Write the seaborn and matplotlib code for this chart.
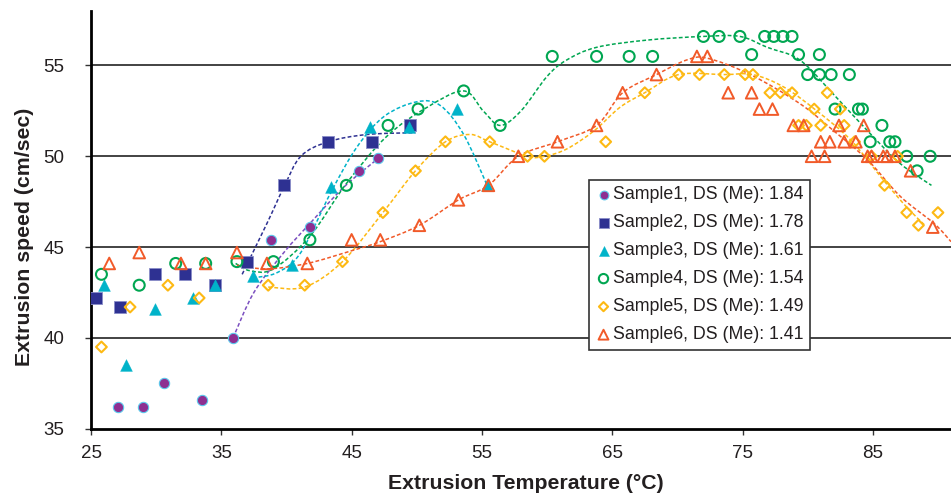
import numpy as np
import pandas as pd
import seaborn as sns
import matplotlib
matplotlib.use("Agg")
import matplotlib.pyplot as plt
from matplotlib.path import Path
from matplotlib.patches import PathPatch

s1_x = [27.1, 29.0, 30.6, 33.5, 35.9, 38.8, 41.8, 45.6, 47.0]
s1_y = [36.2, 36.2, 37.5, 36.6, 40.0, 45.4, 46.1, 49.2, 49.9]

s2_x = [25.4, 27.2, 29.9, 32.2, 34.5, 37.0, 39.8, 43.2, 46.6, 49.5]
s2_y = [42.2, 41.7, 43.5, 43.5, 42.9, 44.2, 48.4, 50.8, 50.8, 51.7]

s3_x = [26.0, 27.7, 29.9, 32.8, 34.5, 37.4, 40.4, 43.4, 46.4, 49.4, 53.1, 55.4]
s3_y = [42.9, 38.5, 41.6, 42.2, 42.9, 43.4, 44.0, 48.3, 51.6, 51.6, 52.6, 48.4]

s4_x = [25.8, 28.7, 31.5, 33.8, 36.2, 39.0, 41.8, 44.6, 47.8, 50.1,
        53.6, 56.4, 60.4, 63.8, 66.3, 68.1, 72.0, 73.2, 74.8, 75.7,
        76.7, 77.4, 78.1, 78.8, 79.3, 80.0, 80.9, 80.9, 81.8, 82.1,
        83.2, 83.9, 84.2, 84.8, 85.7, 86.3, 86.7, 87.6, 88.4, 89.4]
s4_y = [43.5, 42.9, 44.1, 44.1, 44.2, 44.2, 45.4, 48.4, 51.7, 52.6,
        53.6, 51.7, 55.5, 55.5, 55.5, 55.5, 56.6, 56.6, 56.6, 55.6,
        56.6, 56.6, 56.6, 56.6, 55.6, 54.5, 55.6, 54.5, 54.5, 52.6,
        54.5, 52.6, 52.6, 50.8, 51.7, 50.8, 50.8, 50.0, 49.2, 50.0]

s5_x = [25.8, 28.0, 30.9, 33.3, 38.6, 41.4, 44.3, 47.4, 49.9, 52.2,
        55.6, 58.5, 59.8, 64.5, 67.5, 70.1, 71.7, 73.6, 75.2, 75.8,
        77.1, 77.9, 78.8, 81.5, 80.5, 82.5, 79.3, 79.9, 81.0, 82.8,
        83.6, 84.9, 86.9, 85.9, 87.6, 88.5, 90.0]
s5_y = [39.5, 41.7, 42.9, 42.2, 42.9, 42.9, 44.2, 46.9, 49.2, 50.8,
        50.8, 50.0, 50.0, 50.8, 53.5, 54.5, 54.5, 54.5, 54.5, 54.5,
        53.5, 53.5, 53.5, 53.5, 52.6, 52.6, 51.7, 51.7, 51.7, 51.7,
        50.8, 50.0, 50.0, 48.4, 46.9, 46.2, 46.9]

s6_x = [26.4, 28.7, 31.9, 33.8, 36.2, 38.5, 41.6, 45.0, 47.2, 50.2,
        53.2, 55.5, 57.8, 60.8, 63.8, 65.8, 68.4, 71.5, 72.3, 73.9,
        75.7, 76.3, 77.3, 78.9, 79.7, 82.4, 84.3, 81.0, 81.7, 82.8,
        83.7, 80.3, 81.3, 84.6, 84.9, 85.8, 86.1, 86.7, 87.9, 89.6]
s6_y = [44.1, 44.7, 44.1, 44.1, 44.7, 44.1, 44.1, 45.4, 45.4, 46.2,
        47.6, 48.4, 50.0, 50.8, 51.7, 53.5, 54.5, 55.5, 55.5, 53.5,
        53.5, 52.6, 52.6, 51.7, 51.7, 51.7, 51.7, 50.8, 50.8, 50.8,
        50.8, 50.0, 50.0, 50.0, 50.0, 50.0, 50.0, 50.0, 49.2, 46.1]

# trend curves (knots)
t1_x = [35.9, 37.5, 39.8, 41.8, 44.4, 46.9]
t1_y = [40.0, 42.5, 44.7, 46.3, 48.3, 49.8]
t2_x = [36.6, 38.5, 39.8, 41.1, 43.2, 46.2, 49.9]
t2_y = [43.5, 46.3, 48.3, 50.0, 50.8, 51.2, 51.3]
t3_x = [37.4, 39.3, 41.1, 43.4, 45.4, 47.5, 50.0, 51.8, 53.6, 55.4]
t3_y = [43.3, 43.6, 44.7, 48.0, 50.5, 52.2, 53.0, 52.8, 51.2, 48.4]
t4_x = [36.1, 37.2, 39.0, 41.8, 44.6, 47.7, 50.8, 53.6, 55.1, 56.4, 58.0, 60.0,
        61.5, 63.8, 67.7, 72.0, 74.8, 76.9, 79.4, 82.0, 84.6, 87.1, 89.5]
t4_y = [44.1, 43.7, 43.8, 45.6, 48.5, 51.1, 52.7, 53.6, 52.5, 51.7, 52.5, 54.4,
        55.3, 56.0, 56.4, 56.6, 56.6, 56.0, 55.3, 53.4, 51.4, 49.6, 48.4]
t5_x = [38.6, 41.4, 44.3, 47.4, 49.9, 52.2, 54.1, 55.6, 58.5, 59.8, 61.5, 63.6,
        65.6, 67.5, 70.1, 73.6, 75.8, 78.2, 80.7, 83.3, 85.8, 87.6, 89.0]
t5_y = [42.8, 42.8, 44.2, 46.9, 49.2, 50.8, 51.2, 50.8, 50.0, 50.0, 50.4, 51.4,
        52.7, 53.5, 54.5, 54.5, 54.5, 53.8, 52.5, 50.9, 48.7, 47.2, 46.2]
t6_x = [36.2, 38.5, 41.6, 45.0, 47.2, 50.2, 53.2, 55.5, 57.8, 60.8, 63.8,
        65.8, 68.4, 70.7, 72.3, 75.6, 79.4, 82.0, 84.6, 87.1, 89.7, 91.0]
t6_y = [44.0, 43.8, 44.1, 44.8, 45.3, 46.2, 47.6, 48.4, 50.0, 50.8, 51.7,
        53.5, 54.5, 55.3, 55.4, 54.5, 52.9, 51.4, 49.8, 47.8, 46.3, 45.3]

labels = ["Sample1, DS (Me): 1.84", "Sample2, DS (Me): 1.78", "Sample3, DS (Me): 1.61",
          "Sample4, DS (Me): 1.54", "Sample5, DS (Me): 1.49", "Sample6, DS (Me): 1.41"]
colors = ["#8E2F91", "#2E3192", "#00B3C9", "#00A651", "#FDB913", "#F15A29"]
line_colors = ["#7B4FC0", "#2E3192", "#00B3C9", "#00A651", "#FDB913", "#F15A29"]

points = [(s1_x, s1_y), (s2_x, s2_y), (s3_x, s3_y), (s4_x, s4_y), (s5_x, s5_y), (s6_x, s6_y)]
trends = [(t1_x, t1_y), (t2_x, t2_y), (t3_x, t3_y), (t4_x, t4_y), (t5_x, t5_y), (t6_x, t6_y)]

# marker style per sample
styles = [
    dict(marker="o", s=55, color=colors[0], edgecolor="#5BC8EC", linewidth=0.8),
    dict(marker="s", s=68, color=colors[1], edgecolor="#8A8DC8", linewidth=0.6),
    dict(marker="^", s=72, color=colors[2], edgecolor=colors[2], linewidth=0.3),
    dict(marker="o", s=62, facecolors="none", edgecolor=colors[3], linewidth=1.5),
    dict(marker="D", s=30, facecolors="none", edgecolor=colors[4], linewidth=1.5),
    dict(marker="^", s=70, facecolors="none", edgecolor=colors[5], linewidth=1.4),
]


def smooth_path(xs, ys):
    # excel-like smoothed line: catmull-rom converted to bezier segments
    pts = np.column_stack([xs, ys])
    p = np.vstack([pts[0], pts, pts[-1]])
    verts = [pts[0]]
    codes = [Path.MOVETO]
    for i in range(1, len(p) - 2):
        c1 = p[i] + (p[i + 1] - p[i - 1]) / 6
        c2 = p[i + 1] - (p[i + 2] - p[i]) / 6
        verts += [c1, c2, p[i + 1]]
        codes += [Path.CURVE4] * 3
    return Path(verts, codes)


sns.set_style("white")
plt.rcParams['font.family'] = ['Liberation Sans', 'DejaVu Sans']

fig = plt.figure(figsize=(9.51, 4.96), dpi=100)
ax = fig.add_axes([0.0957, 0.1357, 0.9043, 0.8421])

for yv in [40, 45, 50, 55]:
    ax.axhline(yv, color="#222222", lw=1.2, zorder=0)

for (tx, ty), c in zip(trends, line_colors):
    ax.add_patch(PathPatch(smooth_path(tx, ty), fill=False, edgecolor=c, lw=1.1,
                           linestyle=(0, (2.5, 1.5)), zorder=2))

for (px, py), lab, st in zip(points, labels, styles):
    df = pd.DataFrame({"x": px, "y": py})
    sns.scatterplot(data=df, x="x", y="y", ax=ax, label=lab, zorder=3, **st)

ax.set_xlim(25, 91.0)
ax.set_ylim(35, 58)
ax.set_xticks([25, 35, 45, 55, 65, 75, 85])
ax.set_yticks([35, 40, 45, 50, 55])

for side in ["top", "right"]:
    ax.spines[side].set_visible(False)
for side in ["left", "bottom"]:
    ax.spines[side].set_color("black")
    ax.spines[side].set_linewidth(2)

ax.tick_params(axis="both", direction="out", length=4.5, width=1, color="#333333",
               labelsize=13.5, labelcolor="#231F20", left=True, bottom=True)
ax.tick_params(axis="y", pad=14.5)
ax.tick_params(axis="x", pad=7)

ax.set_xlabel("Extrusion Temperature (°C)", fontsize=15.3, fontweight="bold", color="#231F20")
ax.set_ylabel("Extrusion speed (cm/sec)", fontsize=15.3, fontweight="bold", color="#231F20")
ax.xaxis.set_label_coords(0.506, -0.108)
ax.yaxis.set_label_coords(-0.066, 0.459)

leg = ax.legend(loc="upper left", bbox_to_anchor=(0.5794, 0.5954), bbox_transform=ax.transAxes,
                borderaxespad=0, fontsize=12.8, markerscale=0.85, handletextpad=0.1,
                handlelength=0.9, borderpad=0.35, labelspacing=0.62, fancybox=False,
                framealpha=1, edgecolor="#333333", facecolor="white")
leg.get_frame().set_linewidth(1.2)
leg.set_zorder(5)
for t in leg.get_texts():
    t.set_color("#231F20")

fig.savefig("out.png", dpi=100)
